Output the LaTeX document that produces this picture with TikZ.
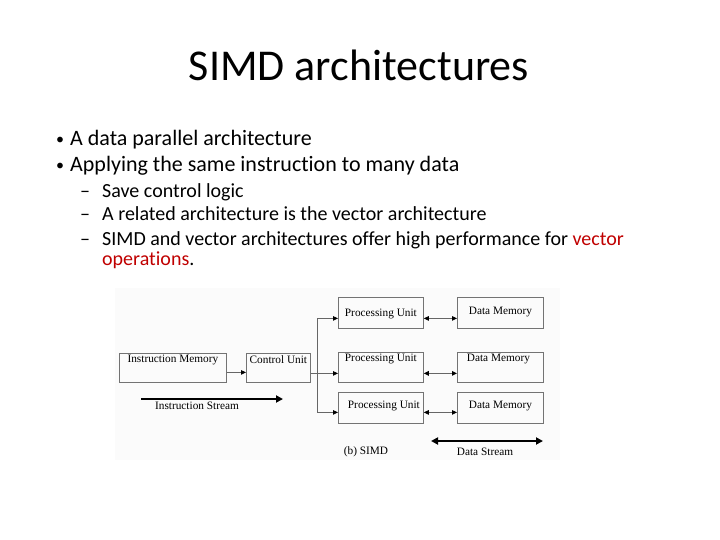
\documentclass[tikz,border=0pt]{standalone}
\usepackage{fontspec}
\setmainfont{Carlito}[Ligatures=NoCommon]
\newfontfamily\tnr{Liberation Serif}
\usetikzlibrary{arrows.meta}
\definecolor{accred}{RGB}{192,0,0}
\begin{document}
\begin{tikzpicture}[x=1pt,y=-1pt,
  box/.style={draw=black!55, line width=0.8pt, rectangle, inner sep=0pt, anchor=north west},
  lbl/.style={font=\tnr\fontsize{11.3}{13}\selectfont, inner sep=0pt},
  arr/.style={draw=black!60, line width=0.8pt, -{Triangle[length=5pt,width=4.5pt,color=black]}},
  darr/.style={draw=black!60, line width=0.8pt, {Triangle[length=5pt,width=4.5pt,color=black]}-{Triangle[length=5pt,width=4.5pt,color=black]}},
  thick arr/.style={draw=black, line width=2.8pt, -{Triangle[length=7pt,width=7pt]}},
  bul/.style={anchor=base west, inner sep=0pt, font=\fontsize{22}{26}\selectfont},
  bdot/.style={anchor=base west, inner sep=0pt, font=\fontsize{16}{20}\selectfont},
  sub/.style={anchor=base west, inner sep=0pt, font=\fontsize{20}{24}\selectfont}]
\useasboundingbox (0,0) rectangle (720,540);
\fill[white!98.5!black] (115,288) rectangle (560,460);
% title
\node[anchor=base, inner sep=0pt, font=\fontsize{44}{52}\selectfont] (title) at (359,81) {SIMD architectures};
% bullets
\node[bdot] (d1) at (56,145) {•};
\node[bul] (b1) at (70,146) {A data parallel architecture};
\node[bdot] (d2) at (56,171) {•};
\node[bul] (b2) at (70,172) {Applying the same instruction to many data};
\node[sub] (s1d) at (80,197) {–};
\node[sub] (s1) at (102,197) {Save control logic};
\node[sub] (s2d) at (80,221) {–};
\node[sub] (s2) at (102,221) {A related architecture is the vector architecture};
\node[sub] (s3d) at (80,245) {–};
\node[sub] (s3) at (102,245) {SIMD and vector architectures offer high performance for \textcolor{accred}{vector}};
\node[sub] (s4) at (102,265) {\textcolor{accred}{operations}.};
% diagram boxes
\node[box, minimum width=107pt, minimum height=29pt] (im) at (119,353) {};
\node[lbl, anchor=north] (imt) at ([yshift=-2pt]im.north) {Instruction Memory};
\node[box, minimum width=64pt, minimum height=29pt] (cu) at (246,353) {};
\node[lbl, anchor=north] (cut) at ([yshift=-2pt]cu.north) {Control Unit};
\node[box, minimum width=85pt, minimum height=31pt] (pu1) at (338,297) {};
\node[lbl] (pu1t) at ([yshift=-1pt]pu1.center) {Processing Unit};
\node[box, minimum width=85pt, minimum height=30pt] (pu2) at (338,352) {};
\node[lbl, anchor=north] (pu2t) at ([yshift=-2pt]pu2.north) {Processing Unit};
\node[box, minimum width=85pt, minimum height=31pt] (pu3) at (338,392) {};
\node[lbl] (pu3t) at ([xshift=3pt,yshift=2pt]pu3.center) {Processing Unit};
\node[box, minimum width=86pt, minimum height=31pt] (dm1) at (457,297) {};
\node[lbl] (dm1t) at ([yshift=1pt]dm1.center) {Data Memory};
\node[box, minimum width=86pt, minimum height=30pt] (dm2) at (457,352) {};
\node[lbl, anchor=north] (dm2t) at ([xshift=-2pt,yshift=-2pt]dm2.north) {Data Memory};
\node[box, minimum width=86pt, minimum height=31pt] (dm3) at (457,392) {};
\node[lbl] (dm3t) at ([yshift=2pt]dm3.center) {Data Memory};
% connectors
\draw[arr] ([yshift=-4.5pt]im.east) -- ([yshift=-4.5pt]cu.west);
\coordinate (bus) at (317,373);
\draw[arr] ([yshift=-5.5pt]cu.east) -- ([yshift=-6pt]pu2.west);
\draw[arr] (bus) |- ([yshift=-5.5pt]pu1.west);
\draw[arr] (bus) |- ([yshift=-4.5pt]pu3.west);
\draw[darr] ([yshift=-5.5pt]pu1.east) -- ([yshift=-5.5pt]dm1.west);
\draw[darr, line width=1.4pt] ([yshift=-6pt]pu2.east) -- ([yshift=-6pt]dm2.west);
\draw[darr] ([yshift=-4.5pt]pu3.east) -- ([yshift=-4.5pt]dm3.west);
% streams
\coordinate (is1) at (141,399);
\coordinate (is2) at (283,399);
\draw[thick arr] (is1) -- (is2);
\node[lbl] (ist) at (197,406) {Instruction Stream};
\coordinate (ds1) at (431,441);
\coordinate (ds2) at (543,441);
\draw[thick arr, {Triangle[length=7pt,width=7pt]}-{Triangle[length=7pt,width=7pt]}, line width=2.4pt] (ds1) -- (ds2);
\node[lbl] (dst) at (485,452) {Data Stream};
\node[lbl] (simd) at (366,452) {(b) SIMD};
\end{tikzpicture}
\end{document}
